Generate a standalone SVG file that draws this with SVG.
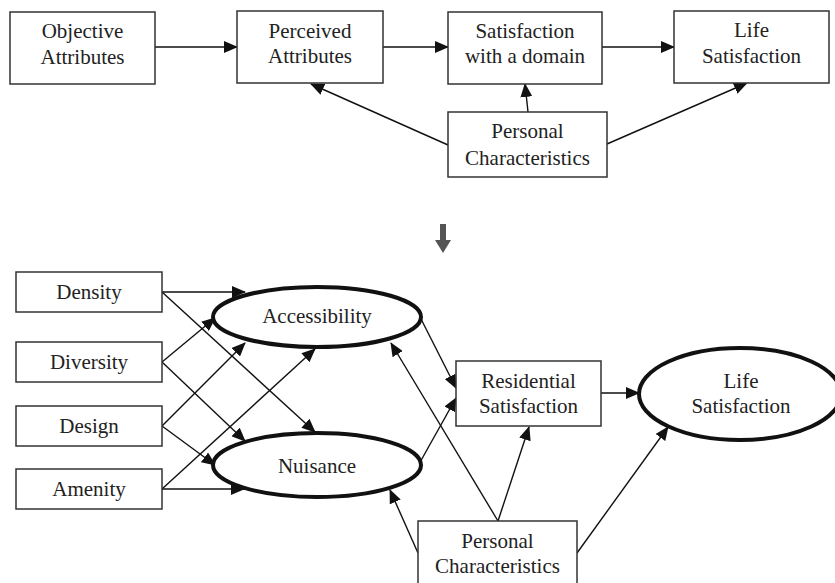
<svg xmlns="http://www.w3.org/2000/svg" width="835" height="583" viewBox="0 0 835 583">
<style>
.box{fill:#fff;stroke:#333;stroke-width:1.5}
.ell{fill:#fff;stroke:#111;stroke-width:4}
.t{font-family:"Liberation Serif","Times New Roman",serif;font-size:21px;fill:#222;text-anchor:middle}
.c{stroke:#111;stroke-width:1.4;fill:none;marker-end:url(#ah)}
</style>
<defs>
<marker id="ah" markerUnits="userSpaceOnUse" markerWidth="14" markerHeight="12" viewBox="0 0 14 12" refX="13" refY="6" orient="auto">
<path d="M0,0 L14,6 L0,12 Z" fill="#111"/>
</marker>
</defs>
<rect width="835" height="583" fill="#fff"/>
<g id="connectors">
<line class="c" x1="155" y1="47" x2="237" y2="47"/>
<line class="c" x1="383" y1="47" x2="448" y2="47"/>
<line class="c" x1="602" y1="47" x2="674" y2="47"/>
<line class="c" x1="448" y1="145" x2="311" y2="84"/>
<line class="c" x1="528" y1="112" x2="525" y2="84"/>
<line class="c" x1="607" y1="144" x2="747" y2="83"/>
<line class="c" x1="162" y1="292" x2="245" y2="292"/>
<line class="c" x1="162" y1="292" x2="315" y2="432"/>
<line class="c" x1="162" y1="362" x2="215" y2="318"/>
<line class="c" x1="162" y1="362" x2="245" y2="441"/>
<line class="c" x1="162" y1="426" x2="245" y2="343"/>
<line class="c" x1="162" y1="426" x2="215" y2="465"/>
<line class="c" x1="162" y1="489" x2="315" y2="349"/>
<line class="c" x1="162" y1="489" x2="244" y2="489"/>
<line class="c" x1="419" y1="315" x2="456" y2="388"/>
<line class="c" x1="419" y1="464" x2="456" y2="398"/>
<line class="c" x1="498" y1="521" x2="391" y2="343"/>
<line class="c" x1="498" y1="521" x2="529" y2="427"/>
<line class="c" x1="418" y1="553" x2="390" y2="490"/>
<line class="c" x1="577" y1="553" x2="668" y2="427"/>
<line class="c" x1="601" y1="393" x2="639" y2="393"/>
</g>
<g id="flow-arrow">
<rect x="440" y="224" width="6" height="17" fill="#555"/>
<path d="M435,240 L451,240 L443,253 Z" fill="#555"/>
</g>
<g id="objective">
<rect class="box" x="10" y="12" width="145" height="72"/>
<text class="t" x="82.5" y="38">Objective</text>
<text class="t" x="82.5" y="64">Attributes</text>
</g>
<g id="perceived">
<rect class="box" x="237" y="11" width="146" height="72"/>
<text class="t" x="310" y="38">Perceived</text>
<text class="t" x="310" y="63">Attributes</text>
</g>
<g id="satisfaction-domain">
<rect class="box" x="448" y="12" width="154" height="72"/>
<text class="t" x="525" y="38">Satisfaction</text>
<text class="t" x="525" y="63">with a domain</text>
</g>
<g id="life-top">
<rect class="box" x="674" y="11" width="155" height="72"/>
<text class="t" x="751.5" y="37">Life</text>
<text class="t" x="751.5" y="63">Satisfaction</text>
</g>
<g id="personal-top">
<rect class="box" x="448" y="112" width="159" height="65"/>
<text class="t" x="527.5" y="138">Personal</text>
<text class="t" x="527.5" y="165">Characteristics</text>
</g>
<g id="density">
<rect class="box" x="16" y="272" width="146" height="40"/>
<text class="t" x="89" y="299">Density</text>
</g>
<g id="diversity">
<rect class="box" x="16" y="342" width="146" height="40"/>
<text class="t" x="89" y="369">Diversity</text>
</g>
<g id="design">
<rect class="box" x="16" y="406" width="146" height="40"/>
<text class="t" x="89" y="433">Design</text>
</g>
<g id="amenity">
<rect class="box" x="16" y="469" width="146" height="40"/>
<text class="t" x="89" y="496">Amenity</text>
</g>
<g id="accessibility">
<ellipse class="ell" cx="317" cy="317" rx="104" ry="30"/>
<text class="t" x="317" y="323">Accessibility</text>
</g>
<g id="nuisance">
<ellipse class="ell" cx="317" cy="465" rx="104" ry="32"/>
<text class="t" x="317" y="473">Nuisance</text>
</g>
<g id="residential">
<rect class="box" x="456" y="361" width="145" height="65"/>
<text class="t" x="528.5" y="388">Residential</text>
<text class="t" x="528.5" y="413">Satisfaction</text>
</g>
<g id="life-bottom">
<ellipse class="ell" cx="740" cy="394" rx="101" ry="46"/>
<text class="t" x="741" y="388">Life</text>
<text class="t" x="741" y="413">Satisfaction</text>
</g>
<g id="personal-bottom">
<rect class="box" x="418" y="521" width="159" height="70"/>
<text class="t" x="497.5" y="548">Personal</text>
<text class="t" x="497.5" y="573">Characteristics</text>
</g>
</svg>
